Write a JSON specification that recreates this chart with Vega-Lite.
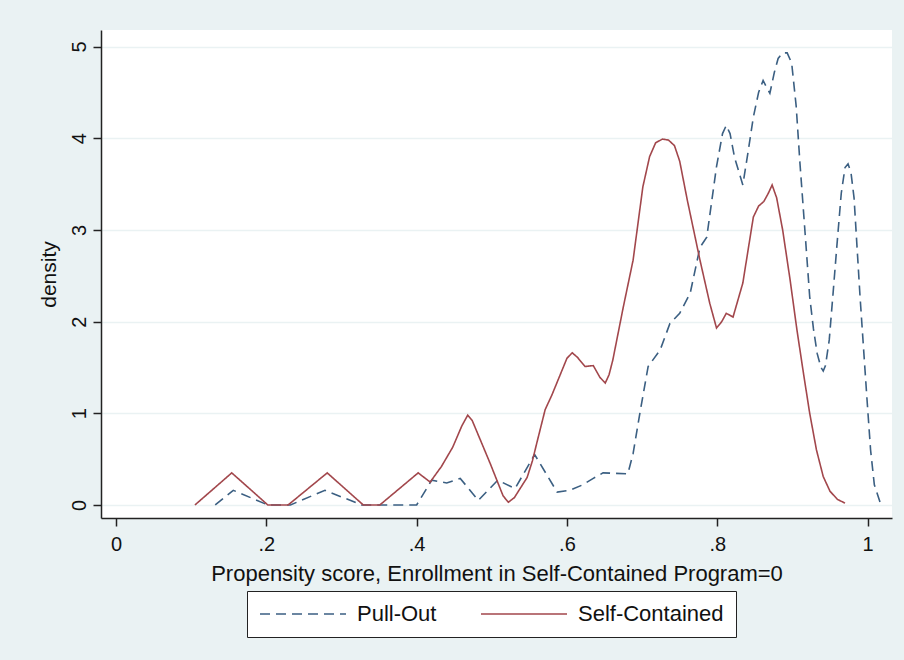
{
  "$schema": "https://vega.github.io/schema/vega-lite/v6.json",
  "width": 791,
  "height": 488,
  "autosize": {"type": "none"},
  "padding": {"left": 101, "top": 30, "right": 12, "bottom": 142},
  "background": "#EAF2F3",
  "config": {
    "view": {"fill": "white", "stroke": null},
    "font": "Liberation Sans",
    "axis": {"labelColor": "#111", "titleColor": "#111", "labelFont": "Liberation Sans", "titleFont": "Liberation Sans", "titleFontWeight": "normal"}
  },
  "data": {
    "values": [
      {"series": "Pull-Out", "x": 0.132, "y": 0},
      {"series": "Pull-Out", "x": 0.156, "y": 0.16},
      {"series": "Pull-Out", "x": 0.202, "y": 0},
      {"series": "Pull-Out", "x": 0.232, "y": 0},
      {"series": "Pull-Out", "x": 0.278, "y": 0.16},
      {"series": "Pull-Out", "x": 0.327, "y": 0},
      {"series": "Pull-Out", "x": 0.400, "y": 0},
      {"series": "Pull-Out", "x": 0.420, "y": 0.27},
      {"series": "Pull-Out", "x": 0.440, "y": 0.24},
      {"series": "Pull-Out", "x": 0.458, "y": 0.29},
      {"series": "Pull-Out", "x": 0.482, "y": 0.05},
      {"series": "Pull-Out", "x": 0.508, "y": 0.27},
      {"series": "Pull-Out", "x": 0.531, "y": 0.18},
      {"series": "Pull-Out", "x": 0.557, "y": 0.55},
      {"series": "Pull-Out", "x": 0.587, "y": 0.14},
      {"series": "Pull-Out", "x": 0.604, "y": 0.16},
      {"series": "Pull-Out", "x": 0.621, "y": 0.22},
      {"series": "Pull-Out", "x": 0.635, "y": 0.29},
      {"series": "Pull-Out", "x": 0.648, "y": 0.35},
      {"series": "Pull-Out", "x": 0.681, "y": 0.34},
      {"series": "Pull-Out", "x": 0.688, "y": 0.56},
      {"series": "Pull-Out", "x": 0.697, "y": 1.0},
      {"series": "Pull-Out", "x": 0.708, "y": 1.51},
      {"series": "Pull-Out", "x": 0.724, "y": 1.69},
      {"series": "Pull-Out", "x": 0.737, "y": 1.98},
      {"series": "Pull-Out", "x": 0.750, "y": 2.09},
      {"series": "Pull-Out", "x": 0.764, "y": 2.31},
      {"series": "Pull-Out", "x": 0.777, "y": 2.81},
      {"series": "Pull-Out", "x": 0.786, "y": 2.92},
      {"series": "Pull-Out", "x": 0.799, "y": 3.69},
      {"series": "Pull-Out", "x": 0.807, "y": 4.05},
      {"series": "Pull-Out", "x": 0.812, "y": 4.14},
      {"series": "Pull-Out", "x": 0.817, "y": 4.05},
      {"series": "Pull-Out", "x": 0.823, "y": 3.79},
      {"series": "Pull-Out", "x": 0.834, "y": 3.49},
      {"series": "Pull-Out", "x": 0.841, "y": 3.85},
      {"series": "Pull-Out", "x": 0.848, "y": 4.23},
      {"series": "Pull-Out", "x": 0.855, "y": 4.5},
      {"series": "Pull-Out", "x": 0.861, "y": 4.63},
      {"series": "Pull-Out", "x": 0.866, "y": 4.55},
      {"series": "Pull-Out", "x": 0.870, "y": 4.49},
      {"series": "Pull-Out", "x": 0.876, "y": 4.72},
      {"series": "Pull-Out", "x": 0.881, "y": 4.87},
      {"series": "Pull-Out", "x": 0.887, "y": 4.93},
      {"series": "Pull-Out", "x": 0.893, "y": 4.93},
      {"series": "Pull-Out", "x": 0.899, "y": 4.82},
      {"series": "Pull-Out", "x": 0.905, "y": 4.35},
      {"series": "Pull-Out", "x": 0.910, "y": 3.73},
      {"series": "Pull-Out", "x": 0.917, "y": 2.95},
      {"series": "Pull-Out", "x": 0.923, "y": 2.27},
      {"series": "Pull-Out", "x": 0.928, "y": 1.92},
      {"series": "Pull-Out", "x": 0.933, "y": 1.65},
      {"series": "Pull-Out", "x": 0.938, "y": 1.5},
      {"series": "Pull-Out", "x": 0.941, "y": 1.46},
      {"series": "Pull-Out", "x": 0.944, "y": 1.52},
      {"series": "Pull-Out", "x": 0.949, "y": 1.8},
      {"series": "Pull-Out", "x": 0.954, "y": 2.3},
      {"series": "Pull-Out", "x": 0.959, "y": 2.81},
      {"series": "Pull-Out", "x": 0.965, "y": 3.4},
      {"series": "Pull-Out", "x": 0.970, "y": 3.68},
      {"series": "Pull-Out", "x": 0.974, "y": 3.72},
      {"series": "Pull-Out", "x": 0.978, "y": 3.62},
      {"series": "Pull-Out", "x": 0.982, "y": 3.35},
      {"series": "Pull-Out", "x": 0.990, "y": 2.27},
      {"series": "Pull-Out", "x": 0.999, "y": 1.18},
      {"series": "Pull-Out", "x": 1.004, "y": 0.6},
      {"series": "Pull-Out", "x": 1.009, "y": 0.22},
      {"series": "Pull-Out", "x": 1.017, "y": 0.02},
      {"series": "Self-Contained", "x": 0.105, "y": 0},
      {"series": "Self-Contained", "x": 0.154, "y": 0.35},
      {"series": "Self-Contained", "x": 0.202, "y": 0},
      {"series": "Self-Contained", "x": 0.229, "y": 0},
      {"series": "Self-Contained", "x": 0.281, "y": 0.35},
      {"series": "Self-Contained", "x": 0.329, "y": 0},
      {"series": "Self-Contained", "x": 0.351, "y": 0},
      {"series": "Self-Contained", "x": 0.402, "y": 0.35},
      {"series": "Self-Contained", "x": 0.418, "y": 0.25},
      {"series": "Self-Contained", "x": 0.433, "y": 0.42},
      {"series": "Self-Contained", "x": 0.448, "y": 0.63},
      {"series": "Self-Contained", "x": 0.460, "y": 0.86},
      {"series": "Self-Contained", "x": 0.468, "y": 0.98},
      {"series": "Self-Contained", "x": 0.474, "y": 0.92},
      {"series": "Self-Contained", "x": 0.498, "y": 0.45},
      {"series": "Self-Contained", "x": 0.515, "y": 0.1},
      {"series": "Self-Contained", "x": 0.522, "y": 0.03},
      {"series": "Self-Contained", "x": 0.530, "y": 0.08},
      {"series": "Self-Contained", "x": 0.547, "y": 0.3},
      {"series": "Self-Contained", "x": 0.554, "y": 0.48},
      {"series": "Self-Contained", "x": 0.560, "y": 0.68},
      {"series": "Self-Contained", "x": 0.571, "y": 1.04},
      {"series": "Self-Contained", "x": 0.580, "y": 1.2},
      {"series": "Self-Contained", "x": 0.590, "y": 1.4},
      {"series": "Self-Contained", "x": 0.600, "y": 1.6},
      {"series": "Self-Contained", "x": 0.607, "y": 1.66},
      {"series": "Self-Contained", "x": 0.614, "y": 1.61},
      {"series": "Self-Contained", "x": 0.624, "y": 1.51},
      {"series": "Self-Contained", "x": 0.635, "y": 1.52},
      {"series": "Self-Contained", "x": 0.644, "y": 1.39},
      {"series": "Self-Contained", "x": 0.651, "y": 1.33},
      {"series": "Self-Contained", "x": 0.656, "y": 1.42},
      {"series": "Self-Contained", "x": 0.661, "y": 1.58},
      {"series": "Self-Contained", "x": 0.675, "y": 2.16},
      {"series": "Self-Contained", "x": 0.688, "y": 2.67},
      {"series": "Self-Contained", "x": 0.701, "y": 3.47},
      {"series": "Self-Contained", "x": 0.710, "y": 3.8},
      {"series": "Self-Contained", "x": 0.718, "y": 3.95},
      {"series": "Self-Contained", "x": 0.727, "y": 3.99},
      {"series": "Self-Contained", "x": 0.735, "y": 3.98},
      {"series": "Self-Contained", "x": 0.743, "y": 3.92},
      {"series": "Self-Contained", "x": 0.750, "y": 3.75},
      {"series": "Self-Contained", "x": 0.760, "y": 3.33},
      {"series": "Self-Contained", "x": 0.777, "y": 2.67},
      {"series": "Self-Contained", "x": 0.790, "y": 2.2},
      {"series": "Self-Contained", "x": 0.799, "y": 1.93},
      {"series": "Self-Contained", "x": 0.806, "y": 2.0},
      {"series": "Self-Contained", "x": 0.812, "y": 2.09},
      {"series": "Self-Contained", "x": 0.821, "y": 2.05},
      {"series": "Self-Contained", "x": 0.834, "y": 2.42},
      {"series": "Self-Contained", "x": 0.848, "y": 3.14},
      {"series": "Self-Contained", "x": 0.855, "y": 3.26},
      {"series": "Self-Contained", "x": 0.862, "y": 3.31},
      {"series": "Self-Contained", "x": 0.868, "y": 3.4},
      {"series": "Self-Contained", "x": 0.873, "y": 3.49},
      {"series": "Self-Contained", "x": 0.879, "y": 3.35},
      {"series": "Self-Contained", "x": 0.887, "y": 3.0},
      {"series": "Self-Contained", "x": 0.897, "y": 2.45},
      {"series": "Self-Contained", "x": 0.906, "y": 1.91},
      {"series": "Self-Contained", "x": 0.915, "y": 1.42},
      {"series": "Self-Contained", "x": 0.923, "y": 1.0},
      {"series": "Self-Contained", "x": 0.932, "y": 0.6},
      {"series": "Self-Contained", "x": 0.941, "y": 0.31},
      {"series": "Self-Contained", "x": 0.950, "y": 0.15},
      {"series": "Self-Contained", "x": 0.960, "y": 0.06},
      {"series": "Self-Contained", "x": 0.970, "y": 0.02}
    ]
  },
  "mark": {"type": "line", "strokeWidth": 1.6, "clip": true},
  "encoding": {
    "x": {
      "field": "x", "type": "quantitative",
      "scale": {"domain": [-0.02, 1.0325], "nice": false, "zero": false},
      "axis": {
        "title": "Propensity score, Enrollment in Self-Contained Program=0",
        "values": [0, 0.2, 0.4, 0.6, 0.8, 1],
        "labelExpr": "datum.value == 0 ? '0' : datum.value == 1 ? '1' : replace(format(datum.value, '.1f'), '0.', '.')",
        "grid": false,
        "domainColor": "#222", "domainWidth": 1.5,
        "tickColor": "#222", "tickWidth": 1.5, "tickSize": 8,
        "labelFontSize": 20, "labelPadding": 8,
        "titleFontSize": 22, "titlePadding": 9
      }
    },
    "y": {
      "field": "y", "type": "quantitative",
      "scale": {"domain": [-0.142, 5.18], "nice": false, "zero": false},
      "axis": {
        "title": "density",
        "values": [0, 1, 2, 3, 4, 5],
        "grid": true, "gridColor": "#EAF2F3", "gridWidth": 1.5,
        "domainColor": "#222", "domainWidth": 1.5,
        "tickColor": "#222", "tickWidth": 1.5, "tickSize": 8,
        "labelAngle": -90, "labelAlign": "center", "labelBaseline": "bottom",
        "labelFontSize": 20, "labelPadding": 4,
        "titleFontSize": 21, "titlePadding": 10
      }
    },
    "color": {
      "field": "series", "type": "nominal",
      "scale": {"domain": ["Pull-Out", "Self-Contained"], "range": ["#3B5F82", "#A2474C"]},
      "legend": {
        "title": null,
        "orient": "none",
        "legendX": 146,
        "legendY": 561,
        "direction": "horizontal",
        "fillColor": "white",
        "strokeColor": "#222",
        "padding": 12,
        "symbolType": "M-4.3,0H4.3",
        "symbolSize": 400,
        "symbolOffset": 33,
        "symbolStrokeWidth": 1.6,
        "labelFontSize": 22,
        "labelFont": "Liberation Sans",
        "labelColor": "#111",
        "labelOffset": 43,
        "columnPadding": 40,
        "labelLimit": 400
      }
    },
    "strokeDash": {
      "field": "series", "type": "nominal",
      "scale": {"domain": ["Pull-Out", "Self-Contained"], "range": [[10, 6], [1, 0]]},
      "legend": null
    }
  }
}
